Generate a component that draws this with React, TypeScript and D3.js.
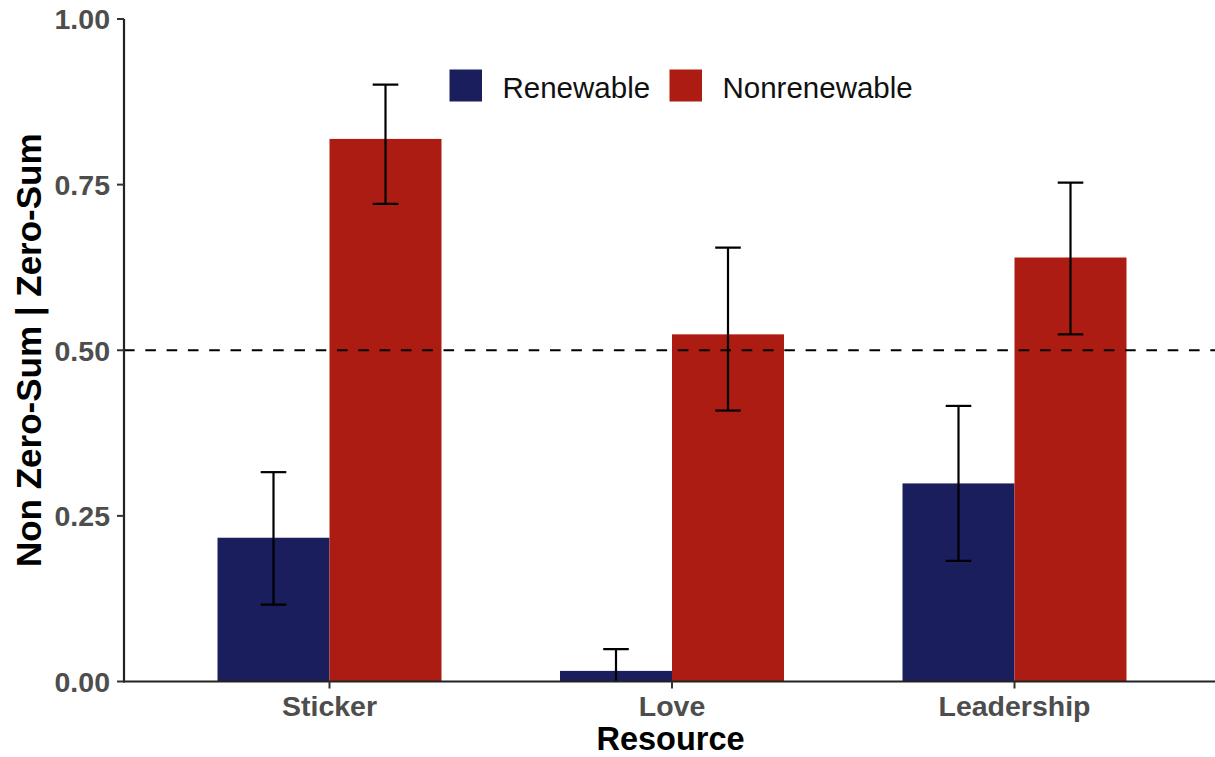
import React from "react";
import * as d3 from "d3";

const categories = ["Sticker", "Love", "Leadership"];
const groups = ["Renewable", "Nonrenewable"];
const renewable = [0.217, 0.016, 0.299];
const renewableLo = [0.116, -0.017, 0.182];
const renewableHi = [0.316, 0.049, 0.416];
const nonrenewable = [0.819, 0.524, 0.64];
const nonrenewableLo = [0.721, 0.409, 0.524];
const nonrenewableHi = [0.901, 0.655, 0.753];
const yTicks = [0, 0.25, 0.5, 0.75, 1.0];
const colors = ["#1a1e5c", "#ad1c12"];

const W = 1215;
const H = 757;
const left = 124;
const right = 1220;
const top = 19;
const bottom = 681.5;
const font = "'Liberation Sans', Arial, Helvetica, sans-serif";

export default function App() {
  const x = d3.scalePoint<string>().domain(categories).range([left, right]).padding(0.6);
  const step = x.step();
  const barW = step * 0.327;
  const y = d3.scaleLinear().domain([0, 1]).range([bottom, top]);
  const capW = 25.6;

  const series = [
    { vals: renewable, lo: renewableLo, hi: renewableHi, off: -1 },
    { vals: nonrenewable, lo: nonrenewableLo, hi: nonrenewableHi, off: 0 },
  ];

  return (
    <svg width={W} height={H} style={{ position: "absolute", left: 0, top: 0, background: "#fff" }}>
      <defs>
        <clipPath id="plot">
          <rect x={left} y={top - 10} width={W - left} height={bottom - top + 10} />
        </clipPath>
      </defs>
      {/* bars */}
      {series.map((s, si) =>
        categories.map((c, i) => {
          const x0 = (x(c) as number) + s.off * barW;
          return (
            <rect
              key={`b${si}-${i}`}
              x={x0}
              y={y(s.vals[i])}
              width={barW}
              height={y(0) - y(s.vals[i])}
              fill={colors[si]}
            />
          );
        })
      )}
      {/* dashed reference line */}
      <line
        x1={left}
        x2={W}
        y1={y(0.5)}
        y2={y(0.5)}
        stroke="#000"
        strokeWidth={2.2}
        strokeDasharray="10.6,10.7"
      />
      {/* error bars */}
      <g clipPath="url(#plot)">
        {series.map((s, si) =>
          categories.map((c, i) => {
            const cx = (x(c) as number) + s.off * barW + barW / 2;
            return (
              <g key={`e${si}-${i}`} stroke="#000" strokeWidth={2.2}>
                <line x1={cx} x2={cx} y1={y(s.lo[i])} y2={y(s.hi[i])} />
                <line x1={cx - capW / 2} x2={cx + capW / 2} y1={y(s.hi[i])} y2={y(s.hi[i])} />
                <line x1={cx - capW / 2} x2={cx + capW / 2} y1={y(s.lo[i])} y2={y(s.lo[i])} />
              </g>
            );
          })
        )}
      </g>
      {/* axes */}
      <line x1={left} x2={left} y1={top} y2={bottom + 1} stroke="#222" strokeWidth={2.2} />
      <line x1={left - 1} x2={W} y1={bottom} y2={bottom} stroke="#222" strokeWidth={2.2} />
      {yTicks.map((t) => (
        <g key={`yt${t}`}>
          <line x1={left - 7} x2={left} y1={y(t)} y2={y(t)} stroke="#333" strokeWidth={2} />
          <text
            x={left - 14}
            y={y(t)}
            dy="0.36em"
            textAnchor="end"
            fontFamily={font}
            fontWeight="bold"
            fontSize={28.5}
            fill="#4d4d4d"
          >
            {t.toFixed(2)}
          </text>
        </g>
      ))}
      {categories.map((c) => (
        <g key={`xt${c}`}>
          <line x1={x(c)} x2={x(c)} y1={bottom} y2={bottom + 7} stroke="#333" strokeWidth={2} />
          <text
            x={x(c)}
            y={715.5}
            textAnchor="middle"
            fontFamily={font}
            fontWeight="bold"
            fontSize={28.5}
            fill="#4d4d4d"
          >
            {c}
          </text>
        </g>
      ))}
      <text
        x={(left + W) / 2 + 1}
        y={750}
        textAnchor="middle"
        fontFamily={font}
        fontWeight="bold"
        fontSize={32.5}
        fill="#000"
      >
        Resource
      </text>
      <text
        transform={`translate(41, ${(top + bottom) / 2}) rotate(-90)`}
        textAnchor="middle"
        fontFamily={font}
        fontWeight="bold"
        fontSize={35}
        fill="#000"
      >
        Non Zero-Sum | Zero-Sum
      </text>
      {/* legend */}
      {groups.map((g, gi) => {
        const lx = gi === 0 ? 449.5 : 669.5;
        return (
          <g key={`lg${g}`}>
            <rect x={lx} y={69.5} width={32.5} height={32} fill={colors[gi]} />
            <text x={lx + 53} y={97.5} fontFamily={font} fontSize={29.5} fill="#111">
              {g}
            </text>
          </g>
        );
      })}
    </svg>
  );
}
